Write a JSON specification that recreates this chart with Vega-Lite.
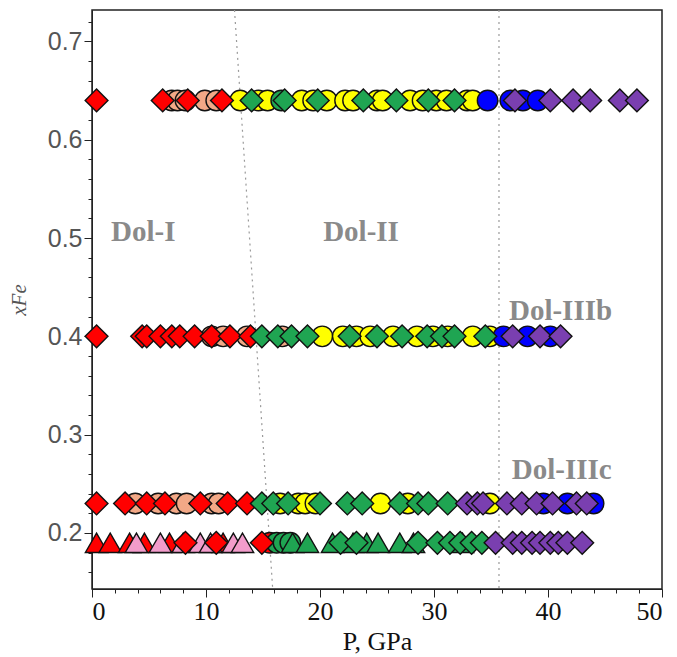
{
  "$schema": "https://vega.github.io/schema/vega-lite/v6.json",
  "width": 570,
  "height": 579,
  "autosize": {"type": "none"},
  "padding": {"left": 92, "top": 10, "right": 15, "bottom": 68},
  "background": "white",
  "config": {
    "view": {"stroke": "#222", "strokeWidth": 1.5},
    "axis": {"grid": false, "domainColor": "#222", "tickColor": "#222", "labelOverlap": false}
  },
  "datasets": {
    "pts": [
      {"p": 7.0, "xFe": 0.64, "series": "s2"}, {"p": 7.5, "xFe": 0.64, "series": "s2"}, {"p": 8.2, "xFe": 0.64, "series": "s2"}, {"p": 9.9, "xFe": 0.64, "series": "s2"}, {"p": 10.9, "xFe": 0.64, "series": "s2"},
      {"p": 13.0, "xFe": 0.64, "series": "s3"}, {"p": 14.6, "xFe": 0.64, "series": "s3"}, {"p": 15.4, "xFe": 0.64, "series": "s3"}, {"p": 16.6, "xFe": 0.64, "series": "s10"}, {"p": 18.4, "xFe": 0.64, "series": "s3"}, {"p": 19.4, "xFe": 0.64, "series": "s3"}, {"p": 20.6, "xFe": 0.64, "series": "s3"}, {"p": 22.2, "xFe": 0.64, "series": "s3"}, {"p": 22.9, "xFe": 0.64, "series": "s3"}, {"p": 25.0, "xFe": 0.64, "series": "s3"}, {"p": 25.5, "xFe": 0.64, "series": "s3"}, {"p": 27.9, "xFe": 0.64, "series": "s3"}, {"p": 29.0, "xFe": 0.64, "series": "s3"}, {"p": 30.2, "xFe": 0.64, "series": "s3"}, {"p": 31.1, "xFe": 0.64, "series": "s3"}, {"p": 32.9, "xFe": 0.64, "series": "s3"}, {"p": 33.4, "xFe": 0.64, "series": "s3"},
      {"p": 34.7, "xFe": 0.64, "series": "s5"}, {"p": 36.7, "xFe": 0.64, "series": "s5"}, {"p": 37.8, "xFe": 0.64, "series": "s5"}, {"p": 39.1, "xFe": 0.64, "series": "s5"},
      {"p": 10.5, "xFe": 0.4, "series": "s2"}, {"p": 11.5, "xFe": 0.4, "series": "s2"}, {"p": 13.6, "xFe": 0.4, "series": "s2"}, {"p": 16.7, "xFe": 0.4, "series": "s2"},
      {"p": 20.2, "xFe": 0.4, "series": "s3"}, {"p": 22.0, "xFe": 0.4, "series": "s3"}, {"p": 23.2, "xFe": 0.4, "series": "s3"}, {"p": 24.4, "xFe": 0.4, "series": "s3"}, {"p": 26.4, "xFe": 0.4, "series": "s3"}, {"p": 28.5, "xFe": 0.4, "series": "s3"}, {"p": 29.9, "xFe": 0.4, "series": "s3"}, {"p": 31.2, "xFe": 0.4, "series": "s3"}, {"p": 33.4, "xFe": 0.4, "series": "s3"}, {"p": 34.9, "xFe": 0.4, "series": "s3"},
      {"p": 36.1, "xFe": 0.4, "series": "s5"}, {"p": 38.2, "xFe": 0.4, "series": "s5"}, {"p": 40.2, "xFe": 0.4, "series": "s5"},
      {"p": 3.8, "xFe": 0.23, "series": "s2"}, {"p": 5.8, "xFe": 0.23, "series": "s2"}, {"p": 7.4, "xFe": 0.23, "series": "s2"}, {"p": 8.3, "xFe": 0.23, "series": "s2"}, {"p": 10.5, "xFe": 0.23, "series": "s2"}, {"p": 11.1, "xFe": 0.23, "series": "s2"},
      {"p": 16.5, "xFe": 0.23, "series": "s3"}, {"p": 18.1, "xFe": 0.23, "series": "s3"}, {"p": 18.7, "xFe": 0.23, "series": "s3"}, {"p": 19.6, "xFe": 0.23, "series": "s3"}, {"p": 25.3, "xFe": 0.23, "series": "s3"}, {"p": 27.7, "xFe": 0.23, "series": "s3"}, {"p": 34.9, "xFe": 0.23, "series": "s3"},
      {"p": 39.6, "xFe": 0.23, "series": "s5"}, {"p": 41.7, "xFe": 0.23, "series": "s5"}, {"p": 44.0, "xFe": 0.23, "series": "s5"},
      {"p": 15.6, "xFe": 0.19, "series": "s11"},
      {"p": 16.2, "xFe": 0.19, "series": "s10"}, {"p": 16.8, "xFe": 0.19, "series": "s10"}, {"p": 17.4, "xFe": 0.19, "series": "s10"},
      {"p": 0.4, "xFe": 0.19, "series": "s7"}, {"p": 1.6, "xFe": 0.19, "series": "s7"}, {"p": 3.3, "xFe": 0.19, "series": "s7"}, {"p": 4.6, "xFe": 0.19, "series": "s7"}, {"p": 6.8, "xFe": 0.19, "series": "s7"}, {"p": 11.5, "xFe": 0.19, "series": "s7"},
      {"p": 3.9, "xFe": 0.19, "series": "s8"}, {"p": 6.0, "xFe": 0.19, "series": "s8"}, {"p": 8.0, "xFe": 0.19, "series": "s8"}, {"p": 9.5, "xFe": 0.19, "series": "s8"}, {"p": 10.4, "xFe": 0.19, "series": "s8"}, {"p": 12.4, "xFe": 0.19, "series": "s8"}, {"p": 13.2, "xFe": 0.19, "series": "s8"},
      {"p": 17.6, "xFe": 0.19, "series": "s9"}, {"p": 18.9, "xFe": 0.19, "series": "s9"}, {"p": 21.1, "xFe": 0.19, "series": "s9"}, {"p": 22.9, "xFe": 0.19, "series": "s9"}, {"p": 24.1, "xFe": 0.19, "series": "s9"}, {"p": 25.1, "xFe": 0.19, "series": "s9"}, {"p": 27.0, "xFe": 0.19, "series": "s9"}, {"p": 28.2, "xFe": 0.19, "series": "s9"}, {"p": 32.5, "xFe": 0.19, "series": "s9"},
      {"p": 0.4, "xFe": 0.64, "series": "s1"}, {"p": 6.2, "xFe": 0.64, "series": "s1"}, {"p": 8.4, "xFe": 0.64, "series": "s1"}, {"p": 11.4, "xFe": 0.64, "series": "s1"},
      {"p": 14.0, "xFe": 0.64, "series": "s4"}, {"p": 16.9, "xFe": 0.64, "series": "s4"}, {"p": 19.8, "xFe": 0.64, "series": "s4"}, {"p": 23.8, "xFe": 0.64, "series": "s4"}, {"p": 26.7, "xFe": 0.64, "series": "s4"}, {"p": 29.5, "xFe": 0.64, "series": "s4"}, {"p": 31.8, "xFe": 0.64, "series": "s4"},
      {"p": 37.1, "xFe": 0.64, "series": "s6"}, {"p": 40.2, "xFe": 0.64, "series": "s6"}, {"p": 42.2, "xFe": 0.64, "series": "s6"}, {"p": 43.7, "xFe": 0.64, "series": "s6"}, {"p": 46.3, "xFe": 0.64, "series": "s6"}, {"p": 47.8, "xFe": 0.64, "series": "s6"},
      {"p": 0.4, "xFe": 0.4, "series": "s1"}, {"p": 4.4, "xFe": 0.4, "series": "s1"}, {"p": 4.8, "xFe": 0.4, "series": "s1"}, {"p": 6.0, "xFe": 0.4, "series": "s1"}, {"p": 7.0, "xFe": 0.4, "series": "s1"}, {"p": 7.7, "xFe": 0.4, "series": "s1"}, {"p": 9.0, "xFe": 0.4, "series": "s1"}, {"p": 10.5, "xFe": 0.4, "series": "s1"}, {"p": 12.1, "xFe": 0.4, "series": "s1"}, {"p": 13.9, "xFe": 0.4, "series": "s1"},
      {"p": 14.9, "xFe": 0.4, "series": "s4"}, {"p": 16.3, "xFe": 0.4, "series": "s4"}, {"p": 17.5, "xFe": 0.4, "series": "s4"}, {"p": 18.9, "xFe": 0.4, "series": "s4"}, {"p": 22.6, "xFe": 0.4, "series": "s4"}, {"p": 25.0, "xFe": 0.4, "series": "s4"}, {"p": 27.2, "xFe": 0.4, "series": "s4"}, {"p": 29.4, "xFe": 0.4, "series": "s4"}, {"p": 30.7, "xFe": 0.4, "series": "s4"}, {"p": 31.8, "xFe": 0.4, "series": "s4"}, {"p": 34.5, "xFe": 0.4, "series": "s4"},
      {"p": 36.9, "xFe": 0.4, "series": "s6"}, {"p": 39.3, "xFe": 0.4, "series": "s6"}, {"p": 41.1, "xFe": 0.4, "series": "s6"},
      {"p": 0.4, "xFe": 0.23, "series": "s1"}, {"p": 2.9, "xFe": 0.23, "series": "s1"}, {"p": 4.8, "xFe": 0.23, "series": "s1"}, {"p": 6.4, "xFe": 0.23, "series": "s1"}, {"p": 9.5, "xFe": 0.23, "series": "s1"}, {"p": 11.9, "xFe": 0.23, "series": "s1"}, {"p": 13.6, "xFe": 0.23, "series": "s1"},
      {"p": 14.9, "xFe": 0.23, "series": "s4"}, {"p": 15.9, "xFe": 0.23, "series": "s4"}, {"p": 17.2, "xFe": 0.23, "series": "s4"}, {"p": 20.0, "xFe": 0.23, "series": "s4"}, {"p": 22.4, "xFe": 0.23, "series": "s4"}, {"p": 23.7, "xFe": 0.23, "series": "s4"}, {"p": 27.0, "xFe": 0.23, "series": "s4"}, {"p": 28.6, "xFe": 0.23, "series": "s4"}, {"p": 29.5, "xFe": 0.23, "series": "s4"}, {"p": 31.2, "xFe": 0.23, "series": "s4"},
      {"p": 32.9, "xFe": 0.23, "series": "s6"}, {"p": 33.8, "xFe": 0.23, "series": "s6"}, {"p": 34.3, "xFe": 0.23, "series": "s6"}, {"p": 36.4, "xFe": 0.23, "series": "s6"}, {"p": 37.7, "xFe": 0.23, "series": "s6"}, {"p": 39.0, "xFe": 0.23, "series": "s6"}, {"p": 40.4, "xFe": 0.23, "series": "s6"}, {"p": 42.5, "xFe": 0.23, "series": "s6"}, {"p": 43.4, "xFe": 0.23, "series": "s6"},
      {"p": 8.2, "xFe": 0.19, "series": "s1"}, {"p": 10.9, "xFe": 0.19, "series": "s1"}, {"p": 14.9, "xFe": 0.19, "series": "s1"},
      {"p": 21.8, "xFe": 0.19, "series": "s4"}, {"p": 23.2, "xFe": 0.19, "series": "s4"}, {"p": 28.6, "xFe": 0.19, "series": "s4"}, {"p": 30.3, "xFe": 0.19, "series": "s4"}, {"p": 31.4, "xFe": 0.19, "series": "s4"}, {"p": 32.3, "xFe": 0.19, "series": "s4"}, {"p": 33.3, "xFe": 0.19, "series": "s4"}, {"p": 34.2, "xFe": 0.19, "series": "s4"},
      {"p": 35.4, "xFe": 0.19, "series": "s6"}, {"p": 36.9, "xFe": 0.19, "series": "s6"}, {"p": 37.7, "xFe": 0.19, "series": "s6"}, {"p": 38.6, "xFe": 0.19, "series": "s6"}, {"p": 39.3, "xFe": 0.19, "series": "s6"}, {"p": 40.2, "xFe": 0.19, "series": "s6"}, {"p": 40.9, "xFe": 0.19, "series": "s6"}, {"p": 41.7, "xFe": 0.19, "series": "s6"}, {"p": 43.0, "xFe": 0.19, "series": "s6"}
    ],
    "bounds": [
      {"p1": 12.5, "x1": 0.732, "p2": 15.85, "x2": 0.143},
      {"p1": 35.7, "x1": 0.732, "p2": 35.7, "x2": 0.143}
    ],
    "labels": [
      {"p": 4.5, "xFe": 0.506, "label": "Dol-I"},
      {"p": 23.6, "xFe": 0.506, "label": "Dol-II"},
      {"p": 41.1, "xFe": 0.426, "label": "Dol-IIIb"},
      {"p": 41.2, "xFe": 0.264, "label": "Dol-IIIc"}
    ]
  },
  "encoding": {
    "x": {
      "field": "p", "type": "quantitative",
      "scale": {"domain": [0, 50], "nice": false, "zero": false},
      "axis": {
        "title": "P, GPa",
        "titleFont": "Liberation Serif", "titleFontSize": 26, "titleFontWeight": "normal", "titleColor": "#111", "titlePadding": 4,
        "values": [0, 2, 4, 6, 8, 10, 12, 14, 16, 18, 20, 22, 24, 26, 28, 30, 32, 34, 36, 38, 40, 42, 44, 46, 48, 50],
        "labelExpr": "datum.value % 10 == 0 ? datum.label : ''",
        "labelFont": "Liberation Serif", "labelFontSize": 26, "labelColor": "#111", "labelPadding": 1,
        "tickSize": {"condition": {"test": "datum.value % 10 == 0", "value": 8}, "value": 4}
      }
    },
    "y": {
      "field": "xFe", "type": "quantitative",
      "scale": {"domain": [0.143, 0.732], "nice": false, "zero": false},
      "axis": {
        "title": "xFe",
        "titleFont": "Liberation Serif", "titleFontSize": 21, "titleFontStyle": "italic", "titleFontWeight": "normal", "titleColor": "#555", "titlePadding": 18,
        "values": [0.16, 0.18, 0.2, 0.22, 0.24, 0.26, 0.28, 0.3, 0.32, 0.34, 0.36, 0.38, 0.4, 0.42, 0.44, 0.46, 0.48, 0.5, 0.52, 0.54, 0.56, 0.58, 0.6, 0.62, 0.64, 0.66, 0.68, 0.7, 0.72],
        "labelExpr": "abs(datum.value*10 - round(datum.value*10)) < 0.01 ? format(datum.value, '.1f') : ''",
        "labelFont": "Liberation Sans", "labelFontSize": 25, "labelColor": "#555", "labelPadding": 2,
        "tickSize": {"condition": {"test": "abs(datum.value*10 - round(datum.value*10)) < 0.01", "value": 8}, "value": 4}
      }
    }
  },
  "layer": [
    {
      "data": {"name": "bounds"},
      "mark": {"type": "rule", "color": "#9a9a9a", "strokeWidth": 1.2, "strokeDash": [2, 4]},
      "encoding": {
        "x": {"field": "p1", "type": "quantitative"},
        "y": {"field": "x1", "type": "quantitative"},
        "x2": {"field": "p2"},
        "y2": {"field": "x2"}
      }
    },
    {
      "data": {"name": "labels"},
      "mark": {"type": "text", "font": "Liberation Serif", "fontSize": 29, "fontWeight": "bold", "color": "#8a8a8a", "align": "center", "baseline": "middle"},
      "encoding": {"text": {"field": "label"}}
    },
    {
      "data": {"name": "pts"},
      "transform": [{"filter": {"field": "series", "oneOf": ["s2", "s3", "s5", "s10", "s11"]}}],
      "mark": {"type": "point", "shape": "circle", "filled": true, "size": 420, "stroke": "#111", "strokeWidth": 1.4, "opacity": 1},
      "encoding": {
        "fill": {"field": "series", "type": "nominal", "legend": null,
          "scale": {"domain": ["s1", "s2", "s3", "s4", "s5", "s6", "s7", "s8", "s9", "s10", "s11"],
                    "range": ["#ff0000", "#f2a886", "#ffff00", "#1fa552", "#0000ff", "#7a3fb0", "#ff0000", "#f29ccb", "#1fa552", "#1fa552", "#ff0000"]}}
      }
    },
    {
      "data": {"name": "pts"},
      "transform": [{"filter": {"field": "series", "oneOf": ["s7", "s8", "s9"]}}],
      "mark": {"type": "point", "shape": "triangle-up", "filled": true, "size": 500, "stroke": "#111", "strokeWidth": 1.4, "opacity": 1},
      "encoding": {
        "fill": {"field": "series", "type": "nominal", "legend": null}
      }
    },
    {
      "data": {"name": "pts"},
      "transform": [{"filter": {"field": "series", "oneOf": ["s1", "s4", "s6"]}}],
      "mark": {"type": "point", "shape": "diamond", "filled": true, "size": 520, "stroke": "#111", "strokeWidth": 1.4, "opacity": 1},
      "encoding": {
        "fill": {"field": "series", "type": "nominal", "legend": null}
      }
    }
  ]
}
